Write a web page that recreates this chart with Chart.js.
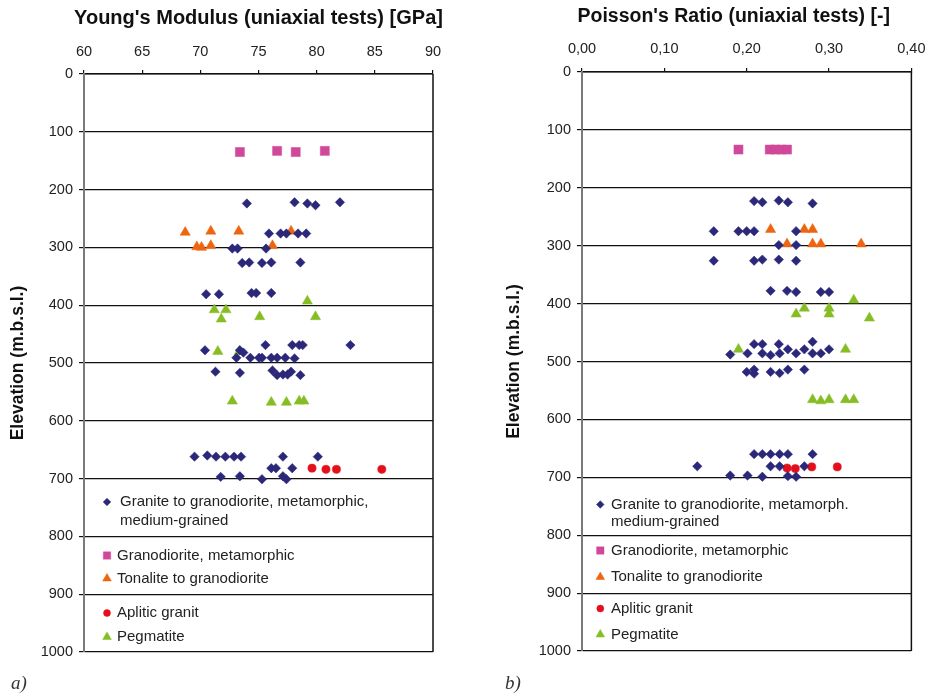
<!DOCTYPE html>
<html>
<head>
<meta charset="utf-8">
<script src="https://cdn.jsdelivr.net/npm/chart.js@4/dist/chart.umd.min.js"></script>
<style>
  html, body { margin: 0; padding: 0; background: #fff; }
  #wrap { position: relative; width: 936px; height: 695px; overflow: hidden; }
  canvas { position: absolute; top: 0; }
  .tag { position: absolute; font: italic 19px "Liberation Serif", "DejaVu Serif", serif; color: #333; line-height: 24px; }
</style>
</head>
<body>
<div id="wrap">
  <canvas id="chartModulus" width="468" height="695" style="left:0;width:468px;height:695px"></canvas>
  <canvas id="chartPoisson" width="468" height="695" style="left:468px;width:468px;height:695px"></canvas>
  <div class="tag" style="left:11px;top:671px">a)</div>
  <div class="tag" style="left:505px;top:671px">b)</div>
</div>
<script>
// ---- Young's modulus [GPa] vs elevation [m.b.s.l.] ----
const graniteModulus     = [74.0, 78.1, 79.2, 79.9, 82.0, 75.9, 76.9, 77.4, 78.4, 79.1, 72.75, 73.2, 75.65,
                            73.6, 74.2, 75.3, 76.1, 78.6, 70.5, 71.6, 74.4, 74.8, 76.1,
                            75.6, 77.9, 78.5, 78.8, 82.9, 70.4, 73.4, 73.7,
                            73.1, 74.3, 75.05, 75.3, 76.1, 76.6, 77.3, 78.1,
                            71.3, 73.4, 76.2, 76.6, 77.1, 77.5, 77.8, 78.6,
                            69.5, 70.6, 71.35, 72.15, 72.9, 73.5, 77.1, 80.1,
                            76.1, 76.5, 77.9, 71.75, 73.4, 75.3, 77.1, 77.4];
const graniteModulusElev = [224, 222, 224, 227, 222, 276, 276, 276, 276, 276, 302, 302, 302,
                            327, 326, 327, 326, 326, 381, 381, 379, 379, 379,
                            469, 469, 469, 469, 469, 478, 478, 482,
                            491, 491, 491, 491, 491, 491, 491, 492,
                            515, 517, 513, 521, 520, 520, 515, 521,
                            662, 660, 662, 662, 662, 662, 662, 662,
                            682, 682, 682, 697, 696, 701, 696, 701];

const granodioriteModulus     = [73.4, 76.6, 78.2, 80.7];
const granodioriteModulusElev = [135, 133, 135, 133];

const tonaliteModulus     = [68.7, 70.9, 73.3, 77.8, 69.7, 70.1, 70.9, 76.2];
const tonaliteModulusElev = [274, 272, 272, 272, 299, 300, 297, 297];

const aplitModulus     = [79.6, 80.8, 81.7, 85.6];
const aplitModulusElev = [682, 684, 684, 684];

const pegmatiteModulus     = [79.2, 71.2, 72.2, 71.8, 75.1, 79.9, 71.5, 73.35, 72.75, 76.1, 77.4, 78.5, 78.9];
const pegmatiteModulusElev = [393, 408, 408, 424, 420, 420, 480, 480, 566, 568, 568, 566, 566];

// ---- Poisson's ratio [-] vs elevation [m.b.s.l.] ----
const granitePoisson     = [0.209, 0.219, 0.239, 0.250, 0.280, 0.160, 0.190, 0.200, 0.209, 0.260,
                            0.239, 0.260, 0.160, 0.209, 0.219, 0.239, 0.260,
                            0.229, 0.249, 0.260, 0.290, 0.300,
                            0.209, 0.219, 0.239, 0.280, 0.250, 0.270, 0.300,
                            0.180, 0.201, 0.219, 0.229, 0.240, 0.260, 0.280, 0.290,
                            0.200, 0.209, 0.209, 0.229, 0.240, 0.250, 0.270,
                            0.209, 0.219, 0.229, 0.240, 0.250, 0.280,
                            0.140, 0.229, 0.240, 0.270,
                            0.180, 0.201, 0.219, 0.250, 0.260];
const granitePoissonElev = [223, 225, 222, 225, 227, 275, 275, 275, 275, 275,
                            299, 299, 326, 326, 324, 324, 326,
                            378, 378, 380, 380, 380,
                            470, 470, 470, 466, 479, 479, 479,
                            488, 486, 486, 489, 486, 486, 486, 486,
                            518, 514, 521, 518, 520, 514, 514,
                            660, 660, 660, 660, 660, 660,
                            681, 681, 681, 681,
                            697, 697, 699, 698, 699];

const granodioritePoisson     = [0.190, 0.228, 0.235, 0.242, 0.249];
const granodioritePoissonElev = [134, 134, 134, 134, 134];

const tonalitePoisson     = [0.229, 0.270, 0.280, 0.249, 0.280, 0.290, 0.339];
const tonalitePoissonElev = [272, 272, 272, 297, 297, 297, 297];

const aplitPoisson     = [0.249, 0.259, 0.279, 0.310];
const aplitPoissonElev = [684, 685, 682, 682];

const pegmatitePoisson     = [0.330, 0.270, 0.260, 0.300, 0.300, 0.349, 0.190, 0.320, 0.280, 0.290, 0.300, 0.320, 0.330];
const pegmatitePoissonElev = [394, 408, 418, 408, 418, 425, 479, 479, 566, 568, 566, 566, 566];

// ---- axis ticks and legend text ----
const modulusTicks = [60, 65, 70, 75, 80, 85, 90];
const poissonTicks = [0.0, 0.1, 0.2, 0.3, 0.4];
const elevationTicks = [0, 100, 200, 300, 400, 500, 600, 700, 800, 900, 1000];

const legendModulus = [
  ['Granite to granodiorite, metamorphic,', 'medium-grained'],
  ['Granodiorite, metamorphic'],
  ['Tonalite to granodiorite'],
  ['Aplitic granit'],
  ['Pegmatite']
];
const legendPoisson = [
  ['Granite to granodiorite, metamorph.', 'medium-grained'],
  ['Granodiorite, metamorphic'],
  ['Tonalite to granodiorite'],
  ['Aplitic granit'],
  ['Pegmatite']
];

// ---- marker styles per rock type ----
const SANS = '"Liberation Sans", Arial, Helvetica, sans-serif';
const styles = [
  { pointStyle: 'rectRot',  radius: 4.7, color: '#2B2779', legendRadius: 3.8 },
  { pointStyle: 'rect',     radius: 6.4, color: '#D1489A', legendRadius: 5.2 },
  { pointStyle: 'triangle', radius: 5.9, color: '#EE6511', legendRadius: 5.0 },
  { pointStyle: 'circle',   radius: 4.1, color: '#E3101C', legendRadius: 3.5 },
  { pointStyle: 'triangle', radius: 5.9, color: '#86BD24', legendRadius: 5.0 }
];

function series(xs, ys, st) {
  return {
    data: xs.map((x, i) => ({ x: x, y: ys[i] })),
    pointStyle: st.pointStyle,
    pointRadius: st.radius,
    pointHoverRadius: st.radius,
    backgroundColor: st.color,
    borderColor: st.color,
    borderWidth: 0.5,
    showLine: false
  };
}

// Draws the header text, the right frame line and the in-plot legend.
const framePlugin = {
  id: 'frame',
  afterDatasetsDraw(chart, args, opts) {
    const { ctx, chartArea: a } = chart;
    ctx.save();
    ctx.strokeStyle = '#111';
    ctx.lineWidth = 1.5;
    ctx.beginPath();
    ctx.moveTo(a.right, a.top);
    ctx.lineTo(a.right, a.bottom);
    ctx.stroke();

    ctx.fillStyle = '#111';
    ctx.font = 'bold ' + opts.titleSize + 'px ' + SANS;
    ctx.textAlign = 'center';
    ctx.textBaseline = 'middle';
    ctx.fillText(opts.title, (a.left + a.right) / 2 + opts.titleShift, opts.titleY);

    ctx.font = '15px ' + SANS;
    ctx.textAlign = 'left';
    opts.legend.forEach((lines, i) => {
      const st = styles[i];
      const row = opts.rows[i];
      ctx.fillStyle = st.color;
      ctx.strokeStyle = st.color;
      ctx.lineWidth = 0.5;
      Chart.helpers.drawPoint(ctx, { pointStyle: st.pointStyle, radius: st.legendRadius, rotation: 0, borderWidth: 0.5 },
        a.left + opts.markerDx, a.top + row[0]);
      ctx.fillStyle = '#222';
      lines.forEach((t, j) => {
        ctx.fillText(t, a.left + (i === 0 ? opts.textDx0 : opts.textDx), a.top + row[j]);
      });
    });
    ctx.restore();
  }
};

function makeChart(id, datasets, xMin, xMax, xTicks, fmt, geo) {
  return new Chart(document.getElementById(id), {
    type: 'scatter',
    data: { datasets: datasets },
    plugins: [framePlugin],
    options: {
      responsive: false,
      animation: false,
      devicePixelRatio: 1,
      layout: { padding: { left: geo.padLeft, right: geo.padRight, top: 0, bottom: geo.padBottom } },
      plugins: {
        legend: { display: false },
        tooltip: { enabled: false },
        frame: geo.frame
      },
      scales: {
        x: {
          type: 'linear', position: 'top', min: xMin, max: xMax,
          afterBuildTicks: s => { s.ticks = xTicks.map(v => ({ value: v })); },
          ticks: { color: '#222', font: { size: 14.5, family: SANS }, padding: geo.xPad, callback: fmt, maxRotation: 0 },
          grid: { drawOnChartArea: false, drawTicks: true, tickLength: 4, color: '#111', lineWidth: 1.2 },
          border: { color: '#111', width: 1.5 },
          afterFit: s => { s.height = geo.top; }
        },
        y: {
          type: 'linear', reverse: true, min: 0, max: 1000,
          afterBuildTicks: s => { s.ticks = elevationTicks.map(v => ({ value: v })); },
          ticks: { color: '#222', font: { size: 14.5, family: SANS }, padding: 6, callback: v => String(v) },
          grid: { color: '#111', lineWidth: 1.2, tickLength: 5, drawTicks: true },
          border: { color: '#7a7a7a', width: 2 },
          title: { display: true, text: 'Elevation (m.b.s.l.)', color: '#111',
                   font: { size: 17.5, weight: 'bold', family: SANS }, padding: { top: 8, bottom: 0 } },
          afterFit: s => { s.width = geo.yWidth; }
        }
      }
    }
  });
}

makeChart('chartModulus', [
    series(graniteModulus, graniteModulusElev, styles[0]),
    series(granodioriteModulus, granodioriteModulusElev, styles[1]),
    series(tonaliteModulus, tonaliteModulusElev, styles[2]),
    series(aplitModulus, aplitModulusElev, styles[3]),
    series(pegmatiteModulus, pegmatiteModulusElev, styles[4])
  ], 60, 90, modulusTicks, v => String(v),
  { padLeft: 0, padRight: 35, padBottom: 43, top: 74, yWidth: 84, xPad: 9.5,
    frame: { title: "Young's Modulus (uniaxial tests) [GPa]", titleSize: 20, titleShift: 0, titleY: 18.5,
             legend: legendModulus, markerDx: 23, textDx0: 36, textDx: 33,
             rows: [[428, 447], [481.5], [504.5], [539], [563]] } });

makeChart('chartPoisson', [
    series(granitePoisson, granitePoissonElev, styles[0]),
    series(granodioritePoisson, granodioritePoissonElev, styles[1]),
    series(tonalitePoisson, tonalitePoissonElev, styles[2]),
    series(aplitPoisson, aplitPoissonElev, styles[3]),
    series(pegmatitePoisson, pegmatitePoissonElev, styles[4])
  ], 0, 0.4, poissonTicks, v => Number(v).toFixed(2).replace('.', ','),
  { padLeft: 28, padRight: 16, padBottom: 44, top: 72, yWidth: 86, xPad: 10.5,
    frame: { title: "Poisson's Ratio (uniaxial tests) [-]", titleSize: 19.5, titleShift: -13, titleY: 16.5,
             legend: legendPoisson, markerDx: 18.3, textDx0: 29, textDx: 29,
             rows: [[432.5, 449.7], [478.5], [505], [536.5], [562.5]] } });
</script>
</body>
</html>
